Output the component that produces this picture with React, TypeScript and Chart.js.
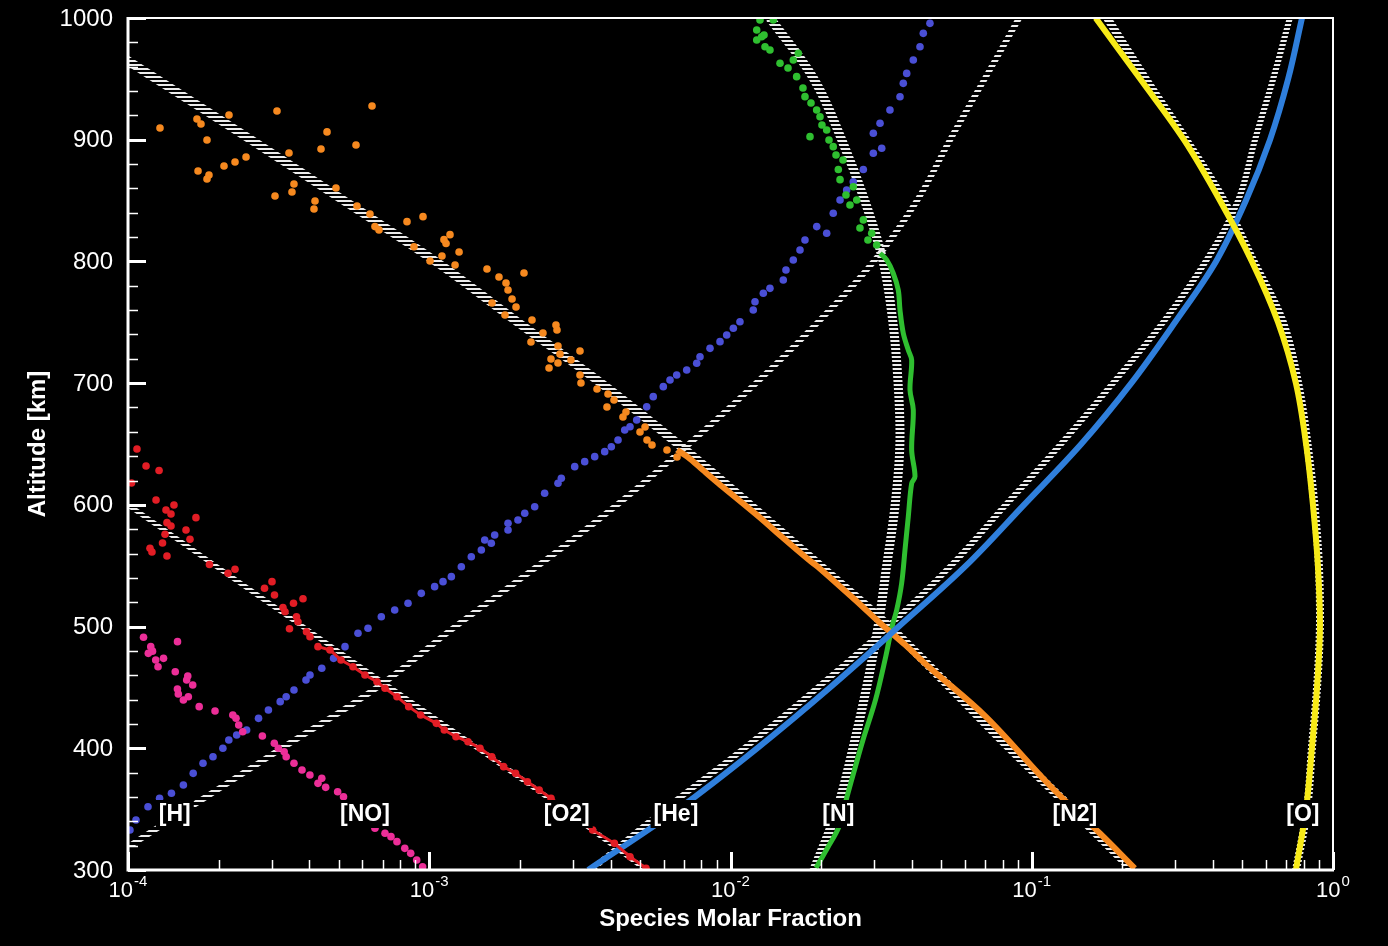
import React, { useEffect, useRef } from 'react';
import { Chart, registerables } from 'chart.js';

Chart.register(...registerables);

const FONT = '"Liberation Sans", Arial, Helvetica, sans-serif';

// ---------- axis / label data ----------
const X_DECADES = [1e-4, 1e-3, 1e-2, 1e-1, 1];
const X_EXPONENTS = ['-4', '-3', '-2', '-1', '0'];
const Y_LABELS = [300, 400, 500, 600, 700, 800, 900, 1000];
const Y_MAJOR_STEP = 100;
const Y_MINOR_STEP = 20;
const SPECIES_LABELS = ['[H]', '[NO]', '[O2]', '[He]', '[N]', '[N2]', '[O]'];
const SPECIES_LABEL_X = [1.43e-4, 6.12e-4, 2.86e-3, 6.59e-3, 0.0228, 0.139, 0.794];
const SPECIES_LABEL_ALT = 346;

// ---------- reference (white hatched) model curves ----------
const REF_ALT = [300, 350, 400, 450, 500, 550, 600, 650, 700, 750, 800, 850, 900, 950, 1000];
const REF_N2 = [0.217, 0.136, 0.0847, 0.0536, 0.0336, 0.0198, 0.0116, 0.0067, 0.00372, 0.00197, 0.00105, 0.00052, 0.000256, 0.000124, 0.00006];
const REF_H = [0.000076, 0.000157, 0.000324, 0.000671, 0.00122, 0.0023, 0.0042, 0.00728, 0.01216, 0.0195, 0.0299, 0.0416, 0.0536, 0.0698, 0.0908];
const REF_HE = [0.00344, 0.00607, 0.0111, 0.0195, 0.0333, 0.0539, 0.082, 0.125, 0.186, 0.273, 0.378, 0.484, 0.551, 0.633, 0.719];
const REF_N = [0.01892, 0.0226, 0.0255, 0.0283, 0.0309, 0.033, 0.0352, 0.0365, 0.036, 0.0346, 0.0321, 0.0279, 0.0234, 0.0189, 0.01352];
const REF_O = [0.754, 0.82, 0.851, 0.885, 0.905, 0.898, 0.868, 0.823, 0.766, 0.682, 0.545, 0.434, 0.325, 0.239, 0.178];
const REF_O2_ALT = [300, 350, 400, 450, 500, 550, 600, 650];
const REF_O2 = [0.00525, 0.0028, 0.00145, 0.00074, 0.00038, 0.000195, 0.0001, 0.000051];

// ---------- measured species ----------
const O_DATA = [0.753, 0.814, 0.851, 0.885, 0.905, 0.891, 0.858, 0.814, 0.753, 0.657, 0.538, 0.4215, 0.32, 0.229, 0.163];
const HE_DATA = [0.00337, 0.0067, 0.01225, 0.0214, 0.0362, 0.0605, 0.0942, 0.146, 0.214, 0.299, 0.409, 0.514, 0.618, 0.71, 0.789];

// [fraction, altitude]
const N2_DENSE = [[6.644e-3, 645.1], [7.22e-3, 639.3], [8.1e-3, 628.6], [9.09e-3, 618], [0.01035, 606.5], [0.01206, 593], [0.01302, 586], [0.01483, 573.6], [0.01823, 554.7], [0.01953, 549], [0.0259, 522], [0.03136, 503], [0.038, 485], [0.04546, 467], [0.07034, 426], [0.1158, 368.4], [0.1685, 330], [0.2197, 301.4]];
const N2_SCATTER = [[1.277e-4, 909.6], [1.694e-4, 917.0], [1.747e-4, 912.9], [2.164e-4, 920.3], [3.123e-4, 923.6], [6.457e-4, 927.7], [1.829e-4, 899.8], [4.578e-4, 906.4], [4.372e-4, 892.4], [5.713e-4, 895.7], [3.423e-4, 889.1], [2.465e-4, 885.8], [2.266e-4, 881.7], [2.083e-4, 878.4], [1.708e-4, 874.3], [1.857e-4, 871.0], [1.829e-4, 867.7], [3.556e-4, 863.6], [3.502e-4, 857.1], [3.076e-4, 853.8], [4.176e-4, 849.7], [4.144e-4, 843.1], [4.902e-4, 860.3], [5.757e-4, 845.5], [6.357e-4, 838.9], [6.604e-4, 828.6], [6.81e-4, 825.9], [8.436e-4, 832.7], [9.535e-4, 836.8], [8.9e-4, 812.1], [1.119e-3, 817.9], [1.172e-3, 822.0], [1.137e-3, 814.7], [1.256e-3, 807.7], [1.102e-3, 804.4], [1.006e-3, 800.3], [1.218e-3, 797.1], [1.555e-3, 793.8], [1.704e-3, 787.2], [2.063e-3, 790.5], [1.798e-3, 782.3], [1.826e-3, 776.5], [1.883e-3, 769.1], [1.941e-3, 762.6], [1.616e-3, 765.9], [1.784e-3, 756.0], [2.193e-3, 751.9], [2.634e-3, 747.8], [2.655e-3, 743.7], [2.385e-3, 741.2], [2.176e-3, 733.8], [2.675e-3, 730.5], [2.716e-3, 724.0], [3.165e-3, 726.4], [2.536e-3, 719.8], [2.675e-3, 716.5], [2.498e-3, 712.5], [2.954e-3, 719.0], [3.165e-3, 706.7], [3.189e-3, 700.1], [3.605e-3, 695.2], [3.921e-3, 691.1], [4.105e-3, 686.2], [3.89e-3, 680.4], [4.396e-3, 672.2], [4.498e-3, 676.3], [5.007e-3, 659.9], [5.282e-3, 653.3], [5.488e-3, 649.2], [5.203e-3, 664.0], [6.154e-3, 645.1], [6.644e-3, 639.3]];

const O2_SCATTER = [[1.071e-4, 645.9], [1.148e-4, 631.9], [1.268e-4, 628.2], [1.027e-4, 618.0], [1.239e-4, 604.0], [1.421e-4, 599.9], [1.337e-4, 595.8], [1.389e-4, 592.5], [1.681e-4, 589.5], [1.347e-4, 585.4], [1.389e-4, 582.6], [1.558e-4, 579.3], [1.327e-4, 575.8], [1.606e-4, 571.7], [1.302e-4, 568.7], [1.183e-4, 564.3], [1.201e-4, 561.3], [1.347e-4, 558.0], [1.864e-4, 551.0], [2.266e-4, 547.1], [2.148e-4, 543.8], [3.006e-4, 536.9], [2.839e-4, 531.5], [3.064e-4, 525.9], [3.81e-4, 522.9], [3.543e-4, 519.1], [3.269e-4, 515.7], [3.32e-4, 512.2], [3.625e-4, 508.1], [3.666e-4, 504.0], [3.436e-4, 498.2], [3.913e-4, 495.8], [4.019e-4, 491.7]];
const O2_DENSE = [[4.272e-4, 483.5], [4.683e-4, 480.8], [5.093e-4, 472.5], [5.583e-4, 467.0], [6.118e-4, 460.2], [6.709e-4, 454.7], [7.131e-4, 449.3], [7.816e-4, 442.4], [8.547e-4, 434.2], [9.361e-4, 427.4], [1.056e-3, 420.5], [1.122e-3, 415.0], [1.227e-3, 409.5], [1.345e-3, 405.4], [1.474e-3, 400.0], [1.613e-3, 393.1], [1.765e-3, 384.9], [1.934e-3, 379.4], [2.118e-3, 372.5], [2.317e-3, 365.7], [2.536e-3, 358.9], [3.486e-3, 332.9], [4.118e-3, 321.9], [4.639e-3, 310.9], [5.242e-3, 301.4]];

const NO_DATA = [[1.126e-4, 491.2], [1.46e-4, 487.6], [1.19e-4, 483.5], [1.206e-4, 479.8], [1.168e-4, 478.0], [1.312e-4, 473.9], [1.236e-4, 472.5], [1.258e-4, 467.0], [1.435e-4, 462.9], [1.579e-4, 459.4], [1.566e-4, 456.1], [1.64e-4, 452.0], [1.459e-4, 448.7], [1.469e-4, 444.6], [1.586e-4, 442.4], [1.527e-4, 439.7], [1.723e-4, 434.2], [1.945e-4, 430.6], [2.228e-4, 427.4], [2.283e-4, 424.7], [2.331e-4, 419.1], [2.403e-4, 413.6], [2.793e-4, 410.1], [3.06e-4, 404.1], [3.155e-4, 400.0], [3.3e-4, 397.2], [3.35e-4, 393.1], [3.556e-4, 387.7], [3.781e-4, 382.2], [4.016e-4, 378.1], [4.398e-4, 375.3], [4.272e-4, 371.2], [4.531e-4, 367.9], [4.965e-4, 364.3], [5.193e-4, 360.2], [6.604e-4, 334.3], [7.131e-4, 330.2], [7.464e-4, 327.4], [7.814e-4, 323.3], [8.295e-4, 317.8], [8.679e-4, 313.7], [9.085e-4, 308.2], [9.505e-4, 302.7]];

const H_DATA = [[1.015e-4, 332.9], [1.063e-4, 341.1], [1.165e-4, 352.0], [1.273e-4, 358.9], [1.394e-4, 363.0], [1.527e-4, 369.8], [1.646e-4, 379.4], [1.774e-4, 387.7], [1.915e-4, 393.1], [2.065e-4, 400.0], [2.161e-4, 406.8], [2.295e-4, 410.9], [2.476e-4, 415.0], [2.712e-4, 424.6], [2.925e-4, 431.5], [3.201e-4, 438.3], [3.35e-4, 442.4], [3.556e-4, 447.9], [3.898e-4, 456.1], [4.019e-4, 460.2], [4.398e-4, 465.7], [4.814e-4, 473.9], [5.252e-4, 483.5], [5.8e-4, 494.5], [6.262e-4, 498.6], [6.932e-4, 508.1], [7.679e-4, 513.6], [8.502e-4, 519.1], [9.41e-4, 527.3], [1.042e-3, 532.8], [1.111e-3, 536.9], [1.184e-3, 541.0], [1.278e-3, 549.2], [1.379e-3, 557.4], [1.489e-3, 562.9], [1.607e-3, 568.4], [1.528e-3, 571.1], [1.649e-3, 575.2], [1.826e-3, 579.3], [1.826e-3, 584.9], [1.97e-3, 587.6], [2.075e-3, 593.1], [2.239e-3, 598.5], [2.416e-3, 609.5], [2.675e-3, 617.7], [2.744e-3, 621.8], [3.04e-3, 631.4], [3.281e-3, 635.5], [3.542e-3, 639.6], [3.823e-3, 643.7], [4.021e-3, 647.8], [4.233e-3, 653.3], [4.455e-3, 661.5], [4.639e-3, 664.2], [4.882e-3, 669.7], [5.27e-3, 680.6], [5.541e-3, 688.9], [5.983e-3, 697.1], [6.298e-3, 702.6], [6.628e-3, 706.7], [7.155e-3, 710.8], [7.724e-3, 716.3], [7.92e-3, 721.7], [8.551e-3, 728.6], [9.23e-3, 734.1], [9.714e-3, 739.6], [1.022e-2, 745.1], [1.075e-2, 750.5], [1.19e-2, 760.1], [1.206e-2, 766.9], [1.285e-2, 773.8], [1.352e-2, 777.9], [1.497e-2, 784.8], [1.528e-2, 793.0], [1.616e-2, 801.2], [1.701e-2, 809.4], [1.767e-2, 817.6], [1.933e-2, 828.6], [2.086e-2, 823.1], [2.193e-2, 839.6], [2.31e-2, 850.5], [2.43e-2, 858.7], [2.556e-2, 865.5], [2.76e-2, 875.5], [2.979e-2, 888.9], [3.177e-2, 893.0], [2.979e-2, 905.3], [3.136e-2, 913.5], [3.383e-2, 924.4], [3.653e-2, 935.3], [3.746e-2, 946.3], [3.845e-2, 954.5], [4.044e-2, 965.5], [4.256e-2, 976.4], [4.365e-2, 987.4], [4.593e-2, 995.6]];

const N_DENSE = [[0.01922, 301.6], [0.02107, 318.9], [0.02292, 335.6], [0.02436, 360.2], [0.0259, 383.8], [0.02753, 406.8], [0.03029, 439.7], [0.03275, 475.2], [0.03436, 499.9], [0.03562, 513.6], [0.037, 535.6], [0.03795, 562.9], [0.03892, 590.3], [0.03994, 617.7], [0.04097, 623.2], [0.03994, 645.1], [0.04044, 678], [0.03943, 694.4], [0.03994, 719], [0.03892, 727.2], [0.03746, 741], [0.03653, 760.1], [0.03605, 776.5], [0.03469, 790.3], [0.03299, 801.2], [0.03136, 806.7]];
const N_SCATTER = [[0.03057, 813.5], [0.02859, 817.6], [0.02943, 823.1], [0.0269, 827.5], [0.0276, 834.1], [0.02492, 846.4], [0.02624, 850.5], [0.02417, 854.6], [0.02556, 861.4], [0.0231, 867.2], [0.0228, 875.5], [0.02363, 883.3], [0.0224, 887.5], [0.02193, 894.3], [0.02123, 899.8], [0.01836, 902.5], [0.02086, 908.0], [0.02012, 912.1], [0.01982, 918.9], [0.01932, 924.4], [0.0185, 930.2], [0.01767, 935.4], [0.0174, 942.5], [0.01658, 951.8], [0.01552, 958.9], [0.0146, 962.8], [0.01616, 965.5], [0.01679, 971.0], [0.01352, 973.7], [0.01302, 976.4], [0.01222, 981.9], [0.01269, 984.6], [0.01292, 986.0], [0.01222, 990.2], [0.01253, 998.4], [0.01387, 998.4]];

// ---------- colours ----------
const C_ORANGE = '#f6891f';
const C_RED = '#e21d25';
const C_PINK = '#ec2e98';
const C_PURPLE = '#4a4fd6';
const C_BLUE = '#2f7fdc';
const C_GREEN = '#2fbf30';
const C_YELLOW = '#f7ea17';
const C_HATCH = '#ececec';

const toXY = (xs: number[], ys: number[]) => xs.map((x, i) => ({ x, y: ys[i] }));
const pairXY = (arr: number[][]) => arr.map(([x, y]) => ({ x, y }));

function hatch(ctx: CanvasRenderingContext2D, period: number) {
  const c = document.createElement('canvas');
  c.width = 1;
  c.height = period;
  const g = c.getContext('2d')!;
  g.fillStyle = C_HATCH;
  g.fillRect(0, 0, 1, 2);
  return ctx.createPattern(c, 'repeat');
}

const decorPlugin = {
  id: 'decor',
  afterDatasetsDraw(chart: any) {
    const ctx: CanvasRenderingContext2D = chart.ctx;
    const { left, right, top, bottom } = chart.chartArea;
    const xs = chart.scales.x;
    const ys = chart.scales.y;
    ctx.save();
    // species labels with black boxes
    ctx.font = `bold 23px ${FONT}`;
    ctx.textAlign = 'center';
    ctx.textBaseline = 'middle';
    SPECIES_LABELS.forEach((t, i) => {
      const px = xs.getPixelForValue(SPECIES_LABEL_X[i]);
      const py = ys.getPixelForValue(SPECIES_LABEL_ALT);
      const w = ctx.measureText(t).width;
      ctx.fillStyle = '#000';
      ctx.fillRect(px - w / 2 - 3, py - 14, w + 6, 28);
      ctx.fillStyle = '#fff';
      ctx.fillText(t, px, py + 1);
    });
    // frame
    ctx.strokeStyle = '#fff';
    ctx.lineWidth = 2;
    ctx.beginPath();
    ctx.moveTo(left, top);
    ctx.lineTo(right, top);
    ctx.lineTo(right, bottom);
    ctx.stroke();
    ctx.lineWidth = 3;
    ctx.beginPath();
    ctx.moveTo(left, top - 1);
    ctx.lineTo(left, bottom);
    ctx.lineTo(right + 1, bottom);
    ctx.stroke();
    // y ticks (inward)
    for (let v = ys.min; v <= ys.max; v += Y_MINOR_STEP) {
      const py = Math.round(ys.getPixelForValue(v)) + 0.5;
      const major = v % Y_MAJOR_STEP === 0;
      ctx.lineWidth = major ? 3 : 1.5;
      ctx.beginPath();
      ctx.moveTo(left, py);
      ctx.lineTo(left + (major ? 18 : 10), py);
      ctx.stroke();
    }
    // y labels
    ctx.fillStyle = '#fff';
    ctx.font = `24px ${FONT}`;
    ctx.textAlign = 'right';
    ctx.textBaseline = 'middle';
    Y_LABELS.forEach((v) => {
      ctx.fillText(String(v), left - 15, ys.getPixelForValue(v) + 1);
    });
    // x ticks (inward)
    X_DECADES.forEach((d, i) => {
      const px = Math.round(xs.getPixelForValue(d)) + 0.5;
      ctx.lineWidth = 3;
      ctx.beginPath();
      ctx.moveTo(px, bottom);
      ctx.lineTo(px, bottom - 18);
      ctx.stroke();
      if (i < X_DECADES.length - 1) {
        for (let m = 2; m <= 9; m++) {
          const mx = Math.round(xs.getPixelForValue(d * m)) + 0.5;
          ctx.lineWidth = 1.5;
          ctx.beginPath();
          ctx.moveTo(mx, bottom);
          ctx.lineTo(mx, bottom - 10);
          ctx.stroke();
        }
      }
    });
    // x tick labels 10^n
    ctx.textAlign = 'left';
    ctx.textBaseline = 'alphabetic';
    const baseFont = `22px ${FONT}`;
    const supFont = `15px ${FONT}`;
    X_DECADES.forEach((d, i) => {
      const px = xs.getPixelForValue(d);
      ctx.font = baseFont;
      const w1 = ctx.measureText('10').width;
      ctx.font = supFont;
      const w2 = ctx.measureText(X_EXPONENTS[i]).width;
      const x0 = px - (w1 + w2 + 1) / 2;
      ctx.font = baseFont;
      ctx.fillText('10', x0, bottom + 27);
      ctx.font = supFont;
      ctx.fillText(X_EXPONENTS[i], x0 + w1 + 1, bottom + 16);
    });
    ctx.restore();
  },
};

export default function App() {
  const ref = useRef<HTMLCanvasElement | null>(null);
  useEffect(() => {
    document.body.style.margin = '0';
    document.body.style.background = '#000';
    const canvas = ref.current!;
    const ctx = canvas.getContext('2d')!;
    const refLine = (data: any[], width: number, period: number) => ({
      data,
      showLine: true,
      pointRadius: 0,
      borderWidth: width,
      borderColor: hatch(ctx, period),
      borderCapStyle: 'butt',
      tension: 0.4,
      order: 10,
    });
    const denseLine = (data: any[], color: string, width: number) => ({
      data,
      showLine: true,
      pointRadius: 0,
      borderWidth: width,
      borderColor: color,
      tension: 0.35,
      order: 2,
    });
    const dots = (data: any[], color: string, line = 0) => ({
      data,
      showLine: line > 0,
      borderWidth: line,
      borderColor: color,
      backgroundColor: color,
      pointRadius: 3.8,
      pointBorderWidth: 0,
      pointBackgroundColor: color,
      tension: 0,
      order: 1,
    });
    const chart = new Chart(canvas, {
      type: 'scatter',
      data: {
        datasets: [
          refLine(toXY(REF_N2, REF_ALT), 9, 4),
          refLine(toXY(REF_O2, REF_O2_ALT), 5, 4),
          refLine(toXY(REF_H, REF_ALT), 6, 5),
          refLine(toXY(REF_HE, REF_ALT), 6, 4),
          refLine(toXY(REF_N, REF_ALT), 9, 4),
          refLine(toXY(REF_O, REF_ALT), 8, 4),
          denseLine(toXY(O_DATA, REF_ALT), C_YELLOW, 6),
          denseLine(toXY(HE_DATA, REF_ALT), C_BLUE, 6),
          denseLine(pairXY(N2_DENSE), C_ORANGE, 6),
          denseLine(pairXY(N_DENSE), C_GREEN, 5),
          dots(pairXY(N2_SCATTER), C_ORANGE),
          dots(pairXY(N_SCATTER), C_GREEN),
          dots(pairXY(O2_SCATTER), C_RED),
          dots(pairXY(O2_DENSE), C_RED, 3),
          dots(pairXY(NO_DATA), C_PINK),
          dots(pairXY(H_DATA), C_PURPLE),
        ] as any,
      },
      options: {
        responsive: false,
        animation: false,
        devicePixelRatio: 1,
        layout: { padding: { top: 18, right: 55, left: 0, bottom: 0 } },
        plugins: { legend: { display: false }, tooltip: { enabled: false } },
        scales: {
          x: {
            type: 'logarithmic',
            min: 1e-4,
            max: 1,
            ticks: { display: false },
            grid: { display: false, drawTicks: false },
            border: { display: false },
            title: {
              display: true,
              text: 'Species Molar Fraction',
              color: '#fff',
              font: { family: FONT, size: 24, weight: 'bold' },
              padding: { top: 0, bottom: 12 },
            },
            afterFit: (s: any) => {
              s.height = 76;
            },
          },
          y: {
            type: 'linear',
            min: 300,
            max: 1000,
            ticks: { display: false },
            grid: { display: false, drawTicks: false },
            border: { display: false },
            title: {
              display: true,
              text: 'Altitude [km]',
              color: '#fff',
              font: { family: FONT, size: 24, weight: 'bold' },
              padding: { top: 24, bottom: 0 },
            },
            afterFit: (s: any) => {
              s.width = 128;
            },
          },
        },
      } as any,
      plugins: [decorPlugin],
    });
    return () => chart.destroy();
  }, []);
  return (
    <div style={{ width: 1388, height: 946, background: '#000' }}>
      <canvas ref={ref} width={1388} height={946} style={{ display: 'block', width: 1388, height: 946 }} />
    </div>
  );
}
